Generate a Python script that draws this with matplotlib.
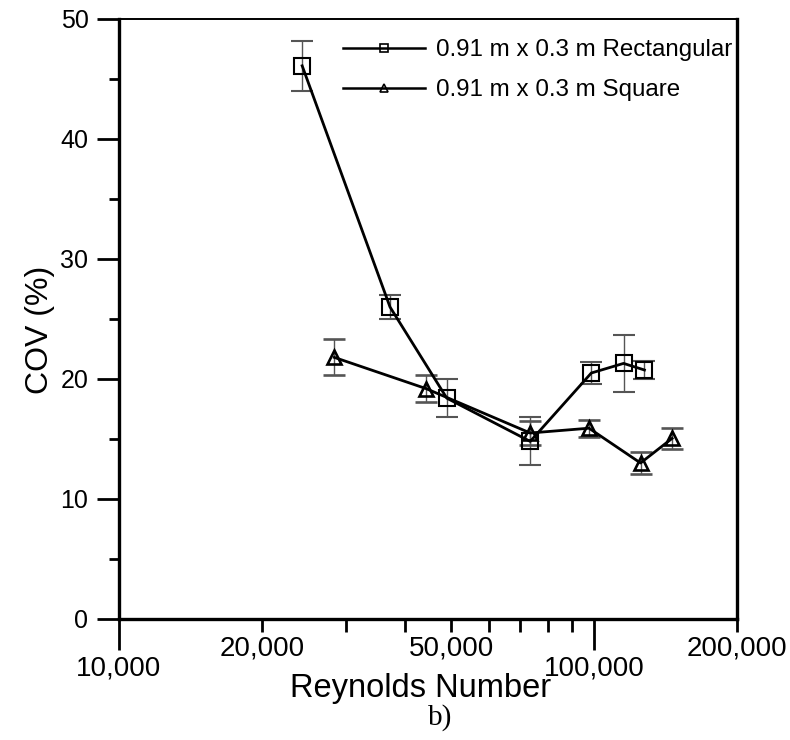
import numpy as np
import matplotlib
matplotlib.use('Agg')
import matplotlib.pyplot as plt
from matplotlib.lines import Line2D
from matplotlib.ticker import FixedLocator, NullFormatter

# данные
rect_re = [24300, 37200, 49000, 73400, 98700, 115400, 127700]
rect_cov = [46.1, 26.0, 18.4, 14.8, 20.5, 21.3, 20.75]
rect_err = [2.1, 1.0, 1.6, 2.0, 0.9, 2.4, 0.75]

sq_re = [28400, 44300, 73400, 97600, 125300, 146000]
sq_cov = [21.8, 19.2, 15.5, 15.9, 13.0, 15.05]
sq_err = [1.5, 1.15, 1.0, 0.7, 0.9, 0.85]

x_major = [10000, 100000]
x_major_labels = ['10,000', '100,000']
x_minor = [20000, 30000, 40000, 50000, 60000, 70000, 80000, 90000, 200000]
x_minor_labels = ['20,000', '', '', '50,000', '', '', '', '', '200,000']

plt.rcParams['font.family'] = ['Liberation Sans', 'DejaVu Sans']

fig = plt.figure(figsize=(7.9, 7.4), dpi=100)
ax = fig.add_axes([119/790, 1-619/740, (737-119)/790, (619-19)/740])

ax.errorbar(rect_re, rect_cov, yerr=rect_err, color='black', lw=2.0,
            marker='s', ms=11.5, mfc='none', mec='black', mew=1.5,
            ecolor='#555555', elinewidth=1.0, capsize=8, capthick=1.0)
ax.errorbar(sq_re, sq_cov, yerr=sq_err, color='black', lw=2.0,
            marker='^', ms=10, mfc='none', mec='black', mew=1.9,
            ecolor='#555555', elinewidth=1.0, capsize=8, capthick=1.0)

ax.set_xscale('log')
ax.set_xlim(10000, 200000)
ax.set_ylim(0, 50)

ax.xaxis.set_major_locator(FixedLocator(x_major))
ax.xaxis.set_minor_locator(FixedLocator(x_minor))
ax.set_xticklabels(x_major_labels, fontsize=20)
ax.set_xticklabels(x_minor_labels, minor=True, fontsize=20)
ax.tick_params(axis='x', which='major', direction='out', length=22, width=2, pad=4)
ax.tick_params(axis='x', which='minor', direction='out', length=9, width=2, pad=3)

ax.set_yticks([0, 10, 20, 30, 40, 50])
ax.set_yticks([5, 15, 25, 35, 45], minor=True)
ax.yaxis.set_minor_formatter(NullFormatter())
ax.tick_params(axis='y', which='major', direction='out', length=16, width=2, pad=6, labelsize=18)
ax.tick_params(axis='y', which='minor', direction='out', length=7, width=2)

for s in ['left', 'bottom', 'right']:
    ax.spines[s].set_linewidth(2.4)
ax.spines['top'].set_linewidth(1.4)

handles = [Line2D([], [], color='black', lw=1.8, marker='s', ms=6, mfc='none', mec='black', mew=1.2),
           Line2D([], [], color='black', lw=1.8, marker='^', ms=6, mfc='none', mec='black', mew=1.2)]
fig.legend(handles, ['0.91 m x 0.3 m Rectangular', '0.91 m x 0.3 m Square'],
           loc='upper left', bbox_to_anchor=(343/790, 1-39/740), frameon=False,
           prop={'size': 17.4}, handlelength=3.4, handletextpad=0.45,
           labelspacing=0.75, borderpad=0, borderaxespad=0)

fig.text(421/790, 1-688/740, 'Reynolds Number', ha='center', va='center', fontsize=23.5)
fig.text(40/790, 1-330/740, 'COV (%)', ha='center', va='center', rotation=90, fontsize=23)
fig.text(440/790, 1-718/740, 'b)', ha='center', va='center', fontsize=21, family=['Liberation Serif', 'DejaVu Serif'])

fig.savefig('out.png', dpi=100)
